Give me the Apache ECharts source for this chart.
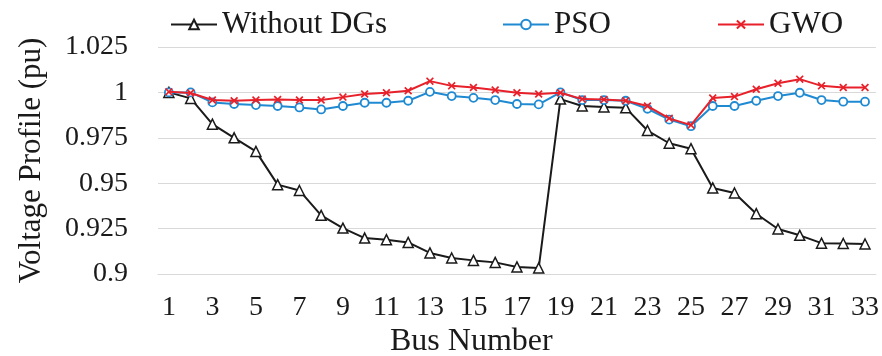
<!DOCTYPE html>
<html><head><meta charset="utf-8">
<script src="https://cdn.jsdelivr.net/npm/echarts@6/dist/echarts.min.js"></script>
<style>html,body{margin:0;padding:0;background:#fff}#c{width:882px;height:356px}</style>
</head><body><div id="c"></div>
<script>
const buses = Array.from({length:33},(_,i)=>String(i+1));
const withoutDG = [1.0,0.9967,0.9825,0.975,0.9675,0.9492,0.946,0.9323,0.9253,0.9198,0.9189,0.9174,0.9116,0.9088,0.9075,0.9064,0.9039,0.9033,
  0.9963,0.9925,0.992,0.9915,0.979,0.972,0.969,0.9474,0.9446,0.9332,0.9248,0.9213,0.917,0.9168,0.9165];
const pso = [1.0,1.0,0.9945,0.9936,0.993,0.9925,0.9917,0.9906,0.9925,0.9943,0.9943,0.9954,1.0003,0.998,0.997,0.9958,0.9936,0.9934,
  1.0,0.9958,0.9958,0.9954,0.991,0.985,0.9814,0.9925,0.9925,0.9954,0.998,0.9998,0.9958,0.9949,0.9949];
const gwo = [1.0003,0.9997,0.9958,0.9954,0.9958,0.9961,0.9958,0.9958,0.9974,0.9991,0.9998,1.0009,1.0062,1.0036,1.0027,1.0013,0.9998,0.9991,
  0.9998,0.9963,0.9961,0.9954,0.9925,0.9857,0.982,0.9969,0.9977,1.0017,1.005,1.0073,1.0036,1.0027,1.0027];
const seriesNames = ['Without DGs','PSO','GWO'];
const yTicks = {min:0.9, max:1.025, interval:0.025};

const font = 'Liberation Serif';
const txt = '#1a1a1a';
const xMark = 'path://M0,1.5L1.5,0L5,3.5L8.5,0L10,1.5L6.5,5L10,8.5L8.5,10L5,6.5L1.5,10L0,8.5L3.5,5Z';
const legendLefts = [165, 497, 712];
const lblRich = {t:{fontFamily:font, fontSize:28, color:txt}};
const chart = echarts.init(document.getElementById('c'), null, {renderer:'canvas'});
chart.setOption({
  animation:false,
  backgroundColor:'#fff',
  textStyle:{fontFamily:font},
  grid:{left:158, right:5, top:47, bottom:82, containLabel:false},
  legend: seriesNames.map((n,i)=>({
    top:4, left:legendLefts[i], itemWidth:46, itemHeight:12,
    textStyle:{fontFamily:font, fontSize:31, color:txt},
    data:[n]
  })),
  title:{text:'Bus Number', left:385, top:321, textStyle:{fontFamily:font, fontSize:32, fontWeight:'normal', color:txt}},
  xAxis:{
    type:'category', data:buses, boundaryGap:true,
    axisLine:{show:true, lineStyle:{color:'#d9d9d9'}},
    axisTick:{show:false},
    axisLabel:{interval:1, fontFamily:font, fontSize:28, color:txt, margin:20,
      formatter:v=>'{t|'+v+'}', rich:lblRich}
  },
  yAxis:{
    type:'value', min:yTicks.min, max:yTicks.max, interval:yTicks.interval,
    name:'Voltage Profile (pu)', nameLocation:'middle', nameGap:111, nameRotate:90,
    nameTextStyle:{fontFamily:font, fontSize:31, color:txt},
    axisLine:{show:false}, axisTick:{show:false},
    splitLine:{lineStyle:{color:'#d9d9d9', width:1}},
    axisLabel:{fontFamily:font, fontSize:28, color:txt, margin:30,
      formatter:v=>'{t|'+(+v.toFixed(4))+'}', rich:lblRich}
  },
  series:[
    {name:seriesNames[0], type:'line', data:withoutDG, symbol:'triangle', symbolSize:10, showAllSymbol:true,
     lineStyle:{color:'#1a1a1a', width:2}, itemStyle:{color:'#ffffff', borderColor:'#1a1a1a', borderWidth:1.5}, z:2},
    {name:seriesNames[1], type:'line', data:pso, symbol:'circle', symbolSize:8, showAllSymbol:true,
     lineStyle:{color:'#1f8ad2', width:2}, itemStyle:{color:'#ffffff', borderColor:'#1f8ad2', borderWidth:1.8}, z:3},
    {name:seriesNames[2], type:'line', data:gwo, symbol:xMark, symbolSize:8, showAllSymbol:true,
     lineStyle:{color:'#e8202a', width:2}, itemStyle:{color:'#e8202a', borderColor:'#e8202a', borderWidth:0}, z:4}
  ]
});
</script></body></html>
